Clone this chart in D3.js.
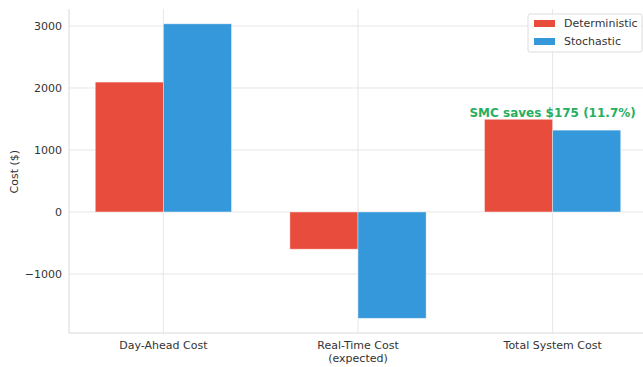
<!DOCTYPE html>
<html>
<head>
<meta charset="utf-8">
<script src="https://cdn.jsdelivr.net/npm/d3@7"></script>
<style>
  body { margin: 0; background: #fff; }
  svg { display: block; font-family: "DejaVu Sans", sans-serif; }
</style>
</head>
<body>
<svg id="chartsvg" width="643" height="367"></svg>
<script>
var vis = d3.select("#chartsvg");

const categories = ["Day-Ahead Cost", "Real-Time Cost\n(expected)", "Total System Cost"];
const seriesNames = ["Deterministic", "Stochastic"];
const deterministic = [2095, -600, 1495];
const stochastic = [3035, -1715, 1320];
const yTicks = [-1000, 0, 1000, 2000, 3000];
const note = "SMC saves $175 (11.7%)";
const colors = ["#e74c3c", "#3498db"];

const plot = { left: 69, right: 647, top: 9, bottom: 333 };
const barW = 0.35;

var x = d3.scaleLinear().domain([-0.485, 2.485]).range([plot.left, plot.right]);
var y = d3.scaleLinear().domain([-1952, 3274]).range([plot.bottom, plot.top]);

// grid
vis.append("g").selectAll("line").data(yTicks).enter().append("line")
    .attr("x1", plot.left).attr("x2", plot.right)
    .attr("y1", d => y(d)).attr("y2", d => y(d))
    .attr("stroke", "#e6e6e6").attr("stroke-width", 1);
vis.append("g").selectAll("line").data(categories).enter().append("line")
    .attr("x1", (d, i) => x(i)).attr("x2", (d, i) => x(i))
    .attr("y1", plot.top).attr("y2", plot.bottom)
    .attr("stroke", "#e6e6e6").attr("stroke-width", 1);

// bars
var series = [deterministic, stochastic];
series.forEach((vals, s) => {
    vis.append("g").selectAll("rect").data(vals).enter().append("rect")
        .attr("x", (d, i) => x(i + (s - 1) * barW))
        .attr("width", x(barW) - x(0))
        .attr("y", d => y(Math.max(0, d)))
        .attr("height", d => Math.abs(y(d) - y(0)))
        .attr("fill", colors[s])
        .attr("stroke", "#fff").attr("stroke-opacity", 0.5).attr("stroke-width", 0.8);
});

// spines
vis.append("line").attr("x1", plot.left).attr("x2", plot.left)
    .attr("y1", plot.top).attr("y2", plot.bottom).attr("stroke", "#d9d9d9");
vis.append("line").attr("x1", plot.left).attr("x2", plot.right)
    .attr("y1", plot.bottom).attr("y2", plot.bottom).attr("stroke", "#d9d9d9");

// y tick labels
vis.append("g").selectAll("text").data(yTicks).enter().append("text")
    .attr("x", plot.left - 7).attr("y", d => y(d) + 4)
    .attr("text-anchor", "end").attr("font-size", 11).attr("fill", "#333")
    .text(d => d < 0 ? "\u2212" + Math.abs(d) : d);

vis.append("text")
    .attr("transform", "translate(18," + y(650) + ") rotate(-90)")
    .attr("text-anchor", "middle").attr("font-size", 11).attr("fill", "#333")
    .text("Cost ($)");

// x tick labels
var xl = vis.append("g").selectAll("text").data(categories).enter().append("text")
    .attr("text-anchor", "middle").attr("font-size", 11).attr("fill", "#333")
    .attr("transform", (d, i) => "translate(" + x(i) + "," + (plot.bottom + 16) + ")");
xl.selectAll("tspan").data(d => d.split("\n")).enter().append("tspan")
    .attr("x", 0).attr("dy", (d, i) => i ? 13 : 0).text(d => d);

// annotation
vis.append("text")
    .attr("x", x(2)).attr("y", y(Math.max(deterministic[2], stochastic[2])) - 2)
    .attr("text-anchor", "middle").attr("font-size", 12).attr("font-weight", "bold")
    .attr("fill", "#27ae60").text(note);

// legend
var lg = vis.append("g").attr("transform", "translate(528,14)");
lg.append("rect").attr("width", 114).attr("height", 38).attr("rx", 2)
    .attr("fill", "#fff").attr("fill-opacity", 0.8).attr("stroke", "#dddddd");
seriesNames.forEach((n, i) => {
    lg.append("rect").attr("x", 6).attr("y", 6 + i * 18).attr("width", 21).attr("height", 7)
        .attr("fill", colors[i]);
    lg.append("text").attr("x", 36).attr("y", 13 + i * 18)
        .attr("font-size", 11).attr("fill", "#333").text(n);
});
</script>
</body>
</html>
